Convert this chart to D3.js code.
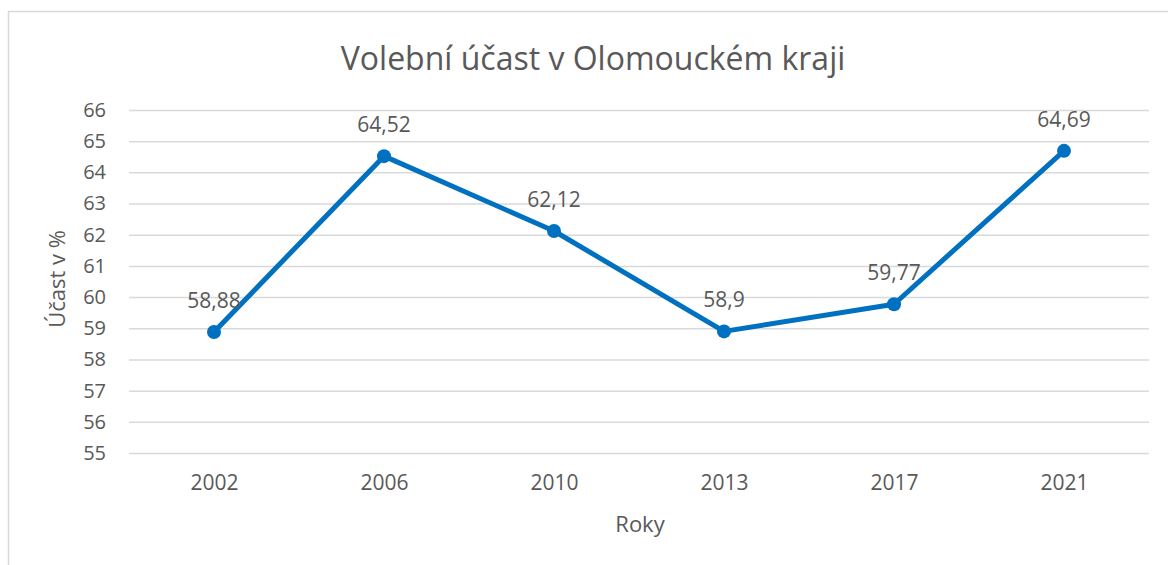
<!DOCTYPE html>
<html lang="cs">
<head>
<meta charset="utf-8">
<script src="https://d3js.org/d3.v7.min.js"></script>
<title>Volební účast</title>
<style>
  body { margin: 0; background: #fff; }
  text { font-family: "Open Sans", "Liberation Sans", sans-serif; fill: #595959; }
</style>
</head>
<body>
<div id="chart"></div>
<script>
const years = ["2002", "2006", "2010", "2013", "2017", "2021"];
const turnout = [58.88, 64.52, 62.12, 58.9, 59.77, 64.69];
const yTicks = [55, 56, 57, 58, 59, 60, 61, 62, 63, 64, 65, 66];

const W = 1168, H = 565;
const plot = { left: 129, right: 1149, top: 110, bottom: 453 };

const svg = d3.select("#chart").append("svg").attr("width", W).attr("height", H);

// chart frame
svg.append("rect").attr("x", 8.5).attr("y", 11.5).attr("width", W + 20).attr("height", H + 20)
   .attr("fill", "none").attr("stroke", "#d9d9d9").attr("stroke-width", 1.5);

const x = d3.scalePoint().domain(years).range([plot.left, plot.right]).padding(0.5);
const y = d3.scaleLinear().domain([55, 66]).range([plot.bottom, plot.top]);

// gridlines + y labels
const yAxis = d3.axisLeft(y).tickValues(yTicks).tickSize(-(plot.right - plot.left)).tickPadding(23);
const gy = svg.append("g").attr("transform", "translate(" + plot.left + ",0)").call(yAxis);
gy.select(".domain").remove();
gy.selectAll("line").attr("stroke", "#d9d9d9").attr("stroke-width", 1.5);
gy.selectAll("text").style("font-size", "20px").attr("fill", "#595959");

// x labels
const xAxis = d3.axisBottom(x).tickSize(0).tickPadding(22);
const gx = svg.append("g").attr("transform", "translate(0," + plot.bottom + ")").call(xAxis);
gx.select(".domain").remove();
gx.selectAll("text").style("font-size", "21px").attr("fill", "#595959");

// line
const line = d3.line().x((d, i) => x(years[i])).y(d => y(d));
svg.append("path").datum(turnout).attr("d", line)
   .attr("fill", "none").attr("stroke", "#0070c0").attr("stroke-width", 5)
   .attr("stroke-linejoin", "round");

svg.selectAll("circle.pt").data(turnout).enter().append("circle")
   .attr("class", "pt")
   .attr("cx", (d, i) => x(years[i])).attr("cy", d => y(d)).attr("r", 7)
   .attr("fill", "#0070c0");

svg.selectAll("text.lbl").data(turnout).enter().append("text")
   .attr("class", "lbl")
   .attr("x", (d, i) => x(years[i])).attr("y", d => y(d) - 24)
   .attr("text-anchor", "middle").style("font-size", "21px")
   .text(d => String(d).replace(".", ","));

// titles
svg.append("text").attr("x", 593).attr("y", 70).attr("text-anchor", "middle")
   .style("font-size", "32px").text("Volební účast v Olomouckém kraji");

svg.append("text").attr("x", 640).attr("y", 532).attr("text-anchor", "middle")
   .style("font-size", "22px").text("Roky");

svg.append("text").attr("transform", "translate(65,279) rotate(-90)").attr("text-anchor", "middle")
   .style("font-size", "22px").text("Účast v %");
</script>
</body>
</html>
